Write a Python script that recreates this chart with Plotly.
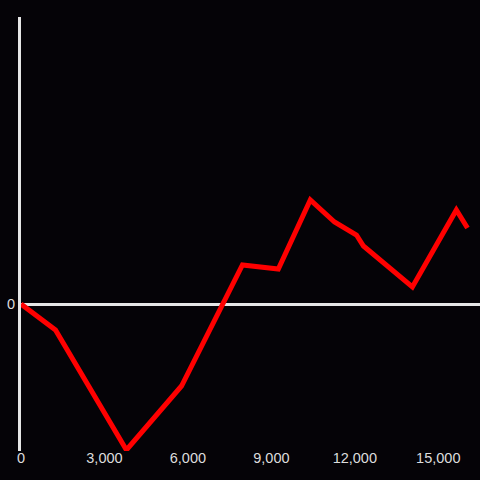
import plotly.graph_objects as go

x_vals = [0, 1240, 3790, 5770, 7960, 9250, 10400, 11270, 12060, 12310, 14070, 15650, 16050]
y_vals = [0, -26, -146, -82, 39, 35, 104, 82, 69, 58, 17, 94, 76]
x_ticks = [0, 3000, 6000, 9000, 12000, 15000]
x_tick_labels = ["0", "3,000", "6,000", "9,000", "12,000", "15,000"]

fig = go.Figure()
fig.add_trace(go.Scatter(x=x_vals, y=y_vals, mode="lines",
                         line=dict(color="#ff0000", width=5)))

fig.update_layout(
    width=480, height=480,
    margin=dict(l=21, r=0, t=17, b=29),
    paper_bgcolor="#050307", plot_bgcolor="#050307",
    showlegend=False,
    font=dict(family="Liberation Sans, Arial, sans-serif", size=14.5, color="#dddddd"),
    xaxis=dict(range=[0, 16500], tickvals=x_ticks, ticktext=x_tick_labels,
               showgrid=False, zeroline=False, showline=False, ticks="",
               ticklabelstandoff=-4),
    yaxis=dict(range=[-147, 287], tickvals=[0], ticktext=["0"],
               showgrid=False, zeroline=True, zerolinecolor="#e6e6e6", zerolinewidth=3,
               showline=True, linecolor="#e6e6e6", linewidth=3, ticks=""),
)

fig.write_html("out.html", config={"displayModeBar": False},
               post_script="document.body.style.margin='0';document.body.style.background='#050307';")
